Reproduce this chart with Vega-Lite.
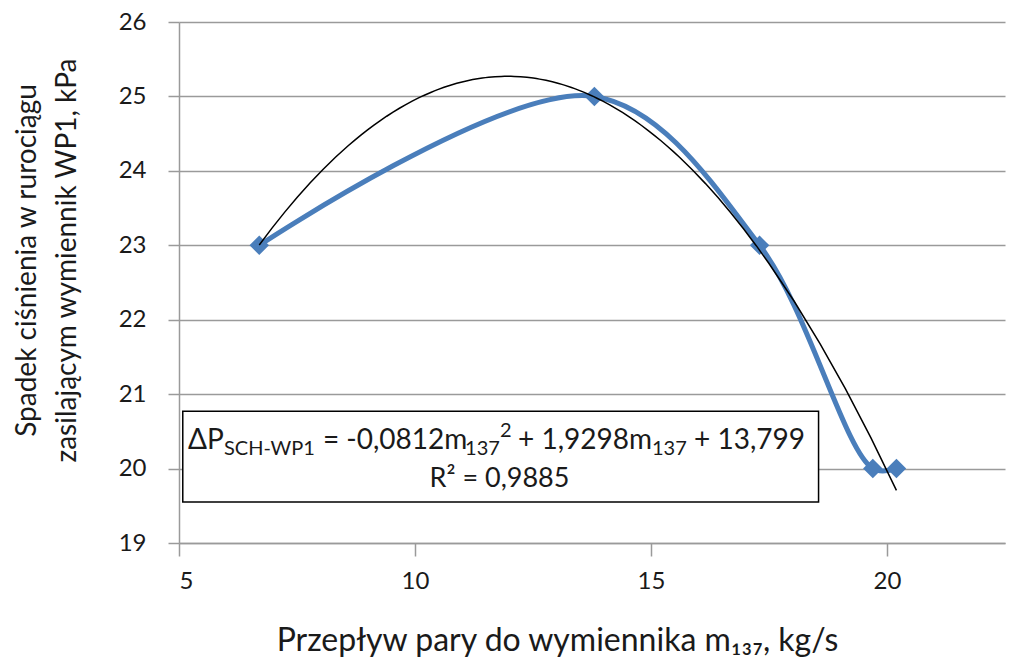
{
  "$schema": "https://vega.github.io/schema/vega-lite/v6.json",
  "width": 826,
  "height": 521,
  "autosize": {"type": "none"},
  "padding": {"left": 179, "top": 22, "right": 19, "bottom": 118},
  "background": "white",
  "config": {
    "view": {"stroke": null},
    "font": "Lato",
    "text": {"fontWeight": "normal"},
    "axis": {
      "domainColor": "#9a9a9a",
      "domainWidth": 1.5,
      "tickColor": "#9a9a9a",
      "tickWidth": 1.5,
      "gridColor": "#9a9a9a",
      "gridWidth": 1.5,
      "labelFont": "Lato",
      "labelFontSize": 24,
      "labelColor": "#1a1a1a",
      "titleFont": "Lato",
      "titleFontSize": 28,
      "titleFontWeight": "normal",
      "titleColor": "#1a1a1a"
    }
  },
  "data": {
    "values": [
      {"x": 6.7, "y": 23},
      {"x": 13.8, "y": 25},
      {"x": 17.3, "y": 23},
      {"x": 19.7, "y": 20},
      {"x": 20.2, "y": 20}
    ]
  },
  "layer": [
    {
      "mark": {"type": "line", "color": "#4a7ebb", "strokeWidth": 5, "interpolate": "catmull-rom"},
      "encoding": {
        "x": {
          "field": "x", "type": "quantitative",
          "scale": {"domain": [5, 22.5], "nice": false, "zero": false},
          "axis": {
            "values": [5, 10, 15, 20], "grid": false, "tickSize": 13, "labelPadding": 13,
            "title": "Przepływ pary do wymiennika m₁₃₇, kg/s",
            "titleFontSize": 32,
            "titleX": 378, "titleY": 107, "titleBaseline": "alphabetic", "titleAnchor": "middle"
          }
        },
        "y": {
          "field": "y", "type": "quantitative",
          "scale": {"domain": [19, 26], "nice": false, "zero": false},
          "axis": {
            "values": [19, 20, 21, 22, 23, 24, 25, 26], "format": "d", "grid": true, "tickSize": 11, "labelPadding": 22,
            "title": ["Spadek ciśnienia w rurociągu", "zasilającym wymiennik WP1, kPa"],
            "titleX": -144, "titleY": 238, "titleBaseline": "alphabetic", "titleAnchor": "middle",
            "titleLineHeight": 40
          }
        }
      }
    },
    {
      "mark": {"type": "point", "shape": "diamond", "filled": true, "opacity": 1, "size": 380, "color": "#4a7ebb"},
      "encoding": {
        "x": {"field": "x", "type": "quantitative"},
        "y": {"field": "y", "type": "quantitative"}
      }
    },
    {
      "transform": [{"regression": "y", "on": "x", "method": "poly", "order": 2}],
      "mark": {"type": "line", "color": "#000000", "strokeWidth": 1.5},
      "encoding": {
        "x": {"field": "x", "type": "quantitative"},
        "y": {"field": "y", "type": "quantitative"}
      }
    },
    {
      "data": {"values": [{}]},
      "mark": {"type": "rect", "fill": "white", "stroke": "#000000", "strokeWidth": 1.5},
      "encoding": {
        "x": {"datum": 5.08, "type": "quantitative"},
        "x2": {"datum": 18.55},
        "y": {"datum": 20.77, "type": "quantitative"},
        "y2": {"datum": 19.55}
      }
    },
    {
      "data": {"values": [{}]},
      "mark": {"type": "text", "align": "left", "baseline": "alphabetic", "fontSize": 28, "fontWeight": "normal", "fill": "#1a1a1a"},
      "encoding": {"x": {"datum": 5.191, "type": "quantitative"}, "y": {"datum": 20.263, "type": "quantitative"}, "text": {"value": "ΔP"}}
    },
    {
      "data": {"values": [{}]},
      "mark": {"type": "text", "align": "left", "baseline": "alphabetic", "fontSize": 20, "fontWeight": "normal", "fill": "#1a1a1a"},
      "encoding": {"x": {"datum": 5.953, "type": "quantitative"}, "y": {"datum": 20.182, "type": "quantitative"}, "text": {"value": "SCH-WP1"}}
    },
    {
      "data": {"values": [{}]},
      "mark": {"type": "text", "align": "left", "baseline": "alphabetic", "fontSize": 28, "fontWeight": "normal", "fill": "#1a1a1a"},
      "encoding": {"x": {"datum": 8.05, "type": "quantitative"}, "y": {"datum": 20.263, "type": "quantitative"}, "text": {"value": "= -0,0812m"}}
    },
    {
      "data": {"values": [{}]},
      "mark": {"type": "text", "align": "left", "baseline": "alphabetic", "fontSize": 20, "fontWeight": "normal", "fill": "#1a1a1a"},
      "encoding": {"x": {"datum": 11.06, "type": "quantitative"}, "y": {"datum": 20.182, "type": "quantitative"}, "text": {"value": "137"}}
    },
    {
      "data": {"values": [{}]},
      "mark": {"type": "text", "align": "left", "baseline": "alphabetic", "fontSize": 20, "fontWeight": "normal", "fill": "#1a1a1a"},
      "encoding": {"x": {"datum": 11.8, "type": "quantitative"}, "y": {"datum": 20.424, "type": "quantitative"}, "text": {"value": "2"}}
    },
    {
      "data": {"values": [{}]},
      "mark": {"type": "text", "align": "left", "baseline": "alphabetic", "fontSize": 28, "fontWeight": "normal", "fill": "#1a1a1a"},
      "encoding": {"x": {"datum": 12.182, "type": "quantitative"}, "y": {"datum": 20.263, "type": "quantitative"}, "text": {"value": "+ 1,9298m"}}
    },
    {
      "data": {"values": [{}]},
      "mark": {"type": "text", "align": "left", "baseline": "alphabetic", "fontSize": 20, "fontWeight": "normal", "fill": "#1a1a1a"},
      "encoding": {"x": {"datum": 15.021, "type": "quantitative"}, "y": {"datum": 20.182, "type": "quantitative"}, "text": {"value": "137"}}
    },
    {
      "data": {"values": [{}]},
      "mark": {"type": "text", "align": "left", "baseline": "alphabetic", "fontSize": 28, "fontWeight": "normal", "fill": "#1a1a1a"},
      "encoding": {"x": {"datum": 15.911, "type": "quantitative"}, "y": {"datum": 20.263, "type": "quantitative"}, "text": {"value": "+ 13,799"}}
    },
    {
      "data": {"values": [{}]},
      "mark": {"type": "text", "align": "center", "baseline": "alphabetic", "fontSize": 27, "fontWeight": "normal", "fill": "#1a1a1a"},
      "encoding": {"x": {"datum": 11.79, "type": "quantitative"}, "y": {"datum": 19.752, "type": "quantitative"}, "text": {"value": "R² = 0,9885"}}
    }
  ]
}
